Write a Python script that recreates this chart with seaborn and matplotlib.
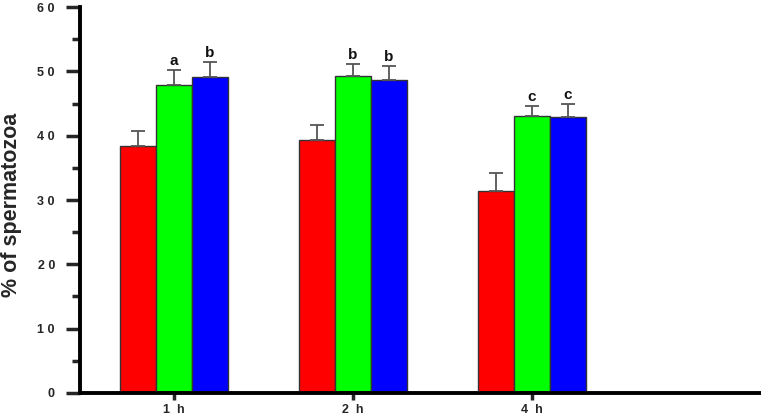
import numpy as np
import pandas as pd
import matplotlib
matplotlib.use("Agg")
import matplotlib.pyplot as plt
import matplotlib.ticker as mticker
import seaborn as sns

# data
times = ["1  h", "2  h", "4  h"]
groups = ["A", "B", "C"]
red_vals = [38.4, 39.3, 31.4]
green_vals = [47.9, 49.3, 43.0]
blue_vals = [49.2, 48.7, 42.9]
red_err = [2.3, 2.3, 2.8]
green_err = [2.3, 1.8, 1.6]
blue_err = [2.3, 2.1, 2.1]
green_letters = ["a", "b", "c"]
blue_letters = ["b", "b", "c"]

PALETTE = {"A": "#FF0000", "B": "#00FF00", "C": "#0000FF"}

df = pd.DataFrame({
    "time": times * 3,
    "group": ["A"] * 3 + ["B"] * 3 + ["C"] * 3,
    "value": red_vals + green_vals + blue_vals,
    "err": red_err + green_err + blue_err,
})

sns.set_theme(style="ticks")
plt.rcParams["font.family"] = ["Liberation Sans", "DejaVu Sans"]

fig = plt.figure(figsize=(7.61, 4.18), dpi=100)
ax = fig.add_axes([0.105, 0.06, 0.895, 0.923])

sns.barplot(data=df, x="time", y="value", hue="group", order=times,
            hue_order=groups, palette=PALETTE, width=0.6, errorbar=None,
            edgecolor="#333333", linewidth=1.0, saturation=1, legend=False, ax=ax)

# error bars (upper only) and significance letters
letters = {"B": green_letters, "C": blue_letters}
for g, cont in zip(groups, ax.containers):
    sub = df[df["group"] == g].set_index("time").loc[times]
    xs = [p.get_x() + p.get_width() / 2 for p in cont.patches]
    ax.errorbar(xs, sub["value"], yerr=[np.zeros(len(xs)), sub["err"]],
                fmt="none", ecolor="#555555", elinewidth=1.3, capsize=5, capthick=1.3)
    if g in letters:
        for x, v, e, t in zip(xs, sub["value"], sub["err"], letters[g]):
            ax.text(x, v + e + 0.3, t, ha="center", va="bottom",
                    fontsize=11, fontweight="bold", color="#111111")

ax.set_xlim(-0.525, 3.28)
ax.set_ylim(0, 60)
ax.yaxis.set_major_locator(mticker.MultipleLocator(10))
ax.yaxis.set_minor_locator(mticker.MultipleLocator(5))
ax.yaxis.set_major_formatter(mticker.FuncFormatter(lambda v, p: " ".join(str(int(v)))))
ax.set_xticks(range(len(times)))
ax.set_xticklabels(times, fontsize=9, fontweight="bold")
ax.tick_params(axis="y", which="major", length=10, width=2.5, labelsize=9, direction="out", pad=8)
ax.tick_params(axis="y", which="minor", length=6, width=2.5, direction="out")
ax.tick_params(axis="x", which="major", length=5, width=2.5, direction="out", pad=3)
for lab in ax.get_yticklabels():
    lab.set_fontweight("bold")

ax.set_xlabel("")
ax.set_ylabel("% of spermatozoa", fontsize=15.5, fontweight="bold")
ax.yaxis.set_label_coords(-0.085, 0.487)
for s in ["top", "right"]:
    ax.spines[s].set_visible(False)
for s in ["left", "bottom"]:
    ax.spines[s].set_linewidth(2.8)
    ax.spines[s].set_color("black")

fig.savefig("out.png", dpi=100)
